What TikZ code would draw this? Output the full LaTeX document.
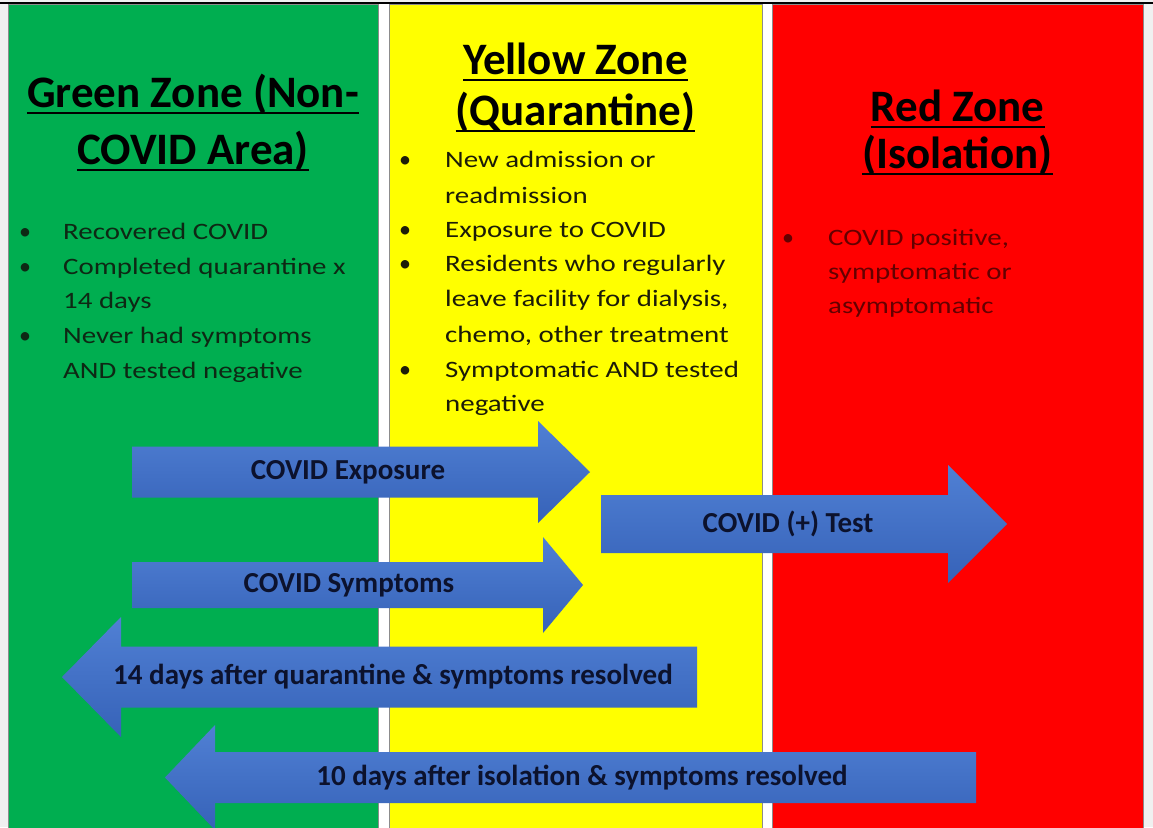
\documentclass[tikz,border=0pt]{standalone}
\usepackage{fontspec}
\setmainfont{Carlito}
\definecolor{zgreen}{RGB}{0,174,80}
\definecolor{zyellow}{RGB}{255,255,0}
\definecolor{zred}{RGB}{255,0,0}
\definecolor{margingrey}{RGB}{240,240,240}
\definecolor{arrowtop}{RGB}{80,128,212}
\definecolor{arrowbot}{RGB}{54,98,184}
\definecolor{arrowtext}{RGB}{12,18,45}
\definecolor{gtext}{RGB}{14,40,20}
\definecolor{ytext}{RGB}{28,28,8}
\definecolor{rtext}{RGB}{100,0,0}
\newcommand{\wide}[1]{\scalebox{1.23}[1]{#1}}
\tikzset{
  zonebox/.style={draw=black!45,line width=0.8pt},
  titletext/.style={font=\fontsize{45}{50}\selectfont\bfseries,anchor=base,inner sep=0pt,text=black},
  uline/.style={line width=2.6pt,black},
  bullettext/.style={font=\fontsize{23.5}{26}\selectfont,anchor=base west,inner sep=0pt},
  bulletdot/.style={font=\fontsize{24}{26}\selectfont,anchor=base,inner sep=0pt},
  blockarrow/.style={top color=arrowtop,bottom color=arrowbot,draw=none},
  arrowlabel/.style={font=\fontsize{29}{32}\selectfont\bfseries,text=arrowtext,inner sep=0pt,anchor=center}
}
\begin{document}
\begin{tikzpicture}[x=1pt,y=-1pt]
\useasboundingbox (0,0) rectangle (1153,827);
\clip (0,0) rectangle (1153,827);
\fill[margingrey] (0,0) rectangle (1153,827);
\fill[white] (8,4) rectangle (1143,827);
% zones
\path[zonebox,fill=zgreen] (8,4) rectangle (378,840);
\path[zonebox,fill=zyellow] (389,4) rectangle (762,840);
\path[zonebox,fill=zred] (772,4) rectangle (1143,840);
\draw[line width=2pt,black] (0,2.5) -- (1153,2.5);
% titles
\node[titletext] (g1) at (193,107) {Green Zone (Non-};
\node[titletext] (g2) at (193,164) {COVID Area)};
\node[titletext] (y1) at (575.5,74) {Yellow Zone};
\node[titletext] (y2) at (575.5,125) {(Quarantine)};
\node[titletext] (r1) at (957.5,121) {Red Zone};
\node[titletext] (r2) at (957.5,168) {(Isolation)};
\foreach \n in {g1,g2,y1,y2,r1,r2}{
  \draw[uline] ([yshift=-6pt]\n.base west) -- ([yshift=-6pt]\n.base east);
}
% green bullets
\begin{scope}[text=gtext]
\node[bulletdot] (gb1) at (25,239) {•};
\node[bullettext] (gt1) at (63,239) {\wide{Recovered COVID}};
\node[bulletdot] (gb2) at (25,274) {•};
\node[bullettext] (gt2) at (63,274) {\wide{Completed quarantine x}};
\node[bullettext] (gt2b) at (63,308) {\wide{14 days}};
\node[bulletdot] (gb3) at (25,343) {•};
\node[bullettext] (gt3) at (63,343) {\wide{Never had symptoms}};
\node[bullettext] (gt3b) at (63,378) {\wide{AND tested negative}};
\end{scope}
% yellow bullets
\begin{scope}[text=ytext]
\node[bulletdot] (yb1) at (405,167) {•};
\node[bullettext] (yt1) at (445,167) {\wide{New admission or}};
\node[bullettext] (yt1b) at (445,203) {\wide{readmission}};
\node[bulletdot] (yb2) at (405,237) {•};
\node[bullettext] (yt2) at (445,237) {\wide{Exposure to COVID}};
\node[bulletdot] (yb3) at (405,271) {•};
\node[bullettext] (yt3) at (445,271) {\wide{Residents who regularly}};
\node[bullettext] (yt3b) at (445,306) {\wide{leave facility for dialysis,}};
\node[bullettext] (yt3c) at (445,342) {\wide{chemo, other treatment}};
\node[bulletdot] (yb4) at (405,377) {•};
\node[bullettext] (yt4) at (445,377) {\wide{Symptomatic AND tested}};
\node[bullettext] (yt4b) at (445,411) {\wide{negative}};
\end{scope}
% red bullets
\begin{scope}[text=rtext]
\node[bulletdot] (rb1) at (788,245) {•};
\node[bullettext] (rt1) at (828,245) {\wide{COVID positive,}};
\node[bullettext] (rt1b) at (828,279) {\wide{symptomatic or}};
\node[bullettext] (rt1c) at (828,313) {\wide{asymptomatic}};
\end{scope}
% block arrows
\path[blockarrow] (132,446.5) -- (538,446.5) -- (538,421) -- (590,472) -- (538,523) -- (538,497.5) -- (132,497.5) -- cycle;
\node[arrowlabel] (aexp) at (348,472) {COVID Exposure};
\path[blockarrow] (132,562) -- (543,562) -- (543,537) -- (583,585) -- (543,633) -- (543,608) -- (132,608) -- cycle;
\node[arrowlabel] (asym) at (349,585) {COVID Symptoms};
\path[blockarrow] (601,495) -- (948,495) -- (948,465) -- (1007,524) -- (948,583) -- (948,553) -- (601,553) -- cycle;
\node[arrowlabel] (atest) at (788,524) {COVID (+) Test};
\path[blockarrow] (697,646.5) -- (121,646.5) -- (121,617) -- (62,677) -- (121,737) -- (121,707.5) -- (697,707.5) -- cycle;
\node[arrowlabel] (a14) at (393,677) {14 days after quarantine \& symptoms resolved};
\path[blockarrow] (976,752) -- (215,752) -- (215,725) -- (165,777.5) -- (215,830) -- (215,803) -- (976,803) -- cycle;
\node[arrowlabel] (a10) at (582,777.5) {10 days after isolation \& symptoms resolved};
\end{tikzpicture}
\end{document}
